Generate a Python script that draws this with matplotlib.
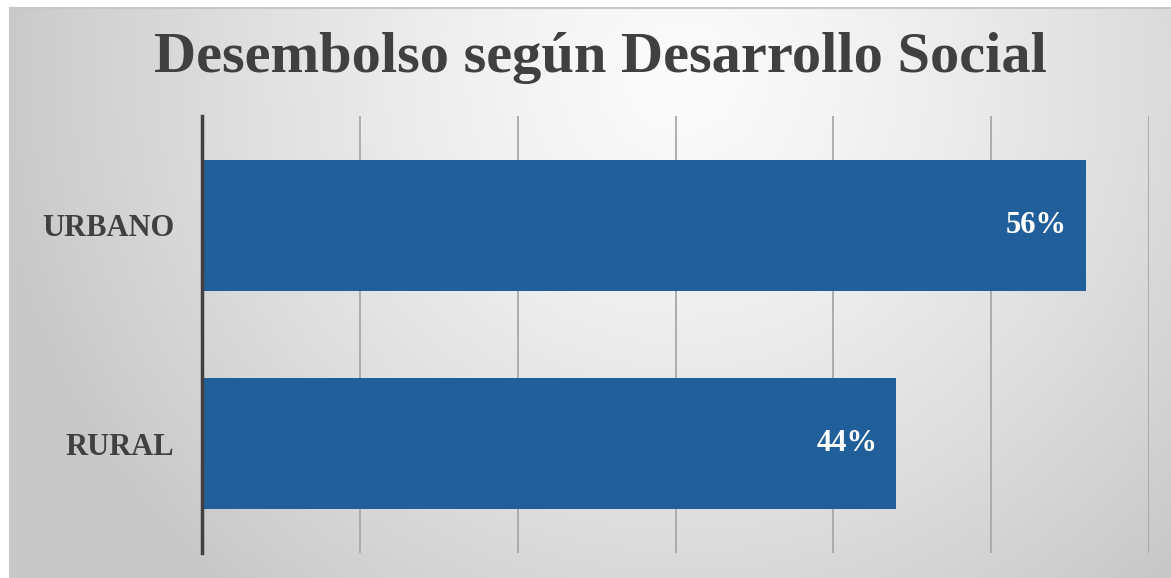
import numpy as np
import matplotlib.pyplot as plt

categorias = ["RURAL", "URBANO"]
valores = [0.44, 0.56]
etiquetas = ["44%", "56%"]
titulo = "Desembolso según Desarrollo Social"

plt.rcParams['font.family'] = ['Liberation Serif', 'DejaVu Serif']

fig = plt.figure(figsize=(11.71, 5.78), dpi=100)
fig.patch.set_facecolor('white')

# radial grey background, lighter near the top centre
bg = fig.add_axes([10/1171, 0, 1 - 10/1171, 1 - 8/578], zorder=0)
yy, xx = np.mgrid[0:1:300j, 0:1:600j]
r = np.sqrt(((xx - 0.58) / 0.6) ** 2 + ((yy - 0.88) / 1.2) ** 2)
g = 0.985 - 0.2 * np.clip(r, 0, 1) ** 1.3
bg.imshow(np.dstack([g, g, g]), origin='lower', aspect='auto', extent=[0, 1, 0, 1])
bg.set_xticks([])
bg.set_yticks([])
for k, s in bg.spines.items():
    s.set_color('#c8c8c8')
    s.set_linewidth(1.5)
    if k in ('right', 'bottom'):
        s.set_visible(False)

ax = fig.add_axes([202/1171, 1 - 553/578, (1149 - 202)/1171, (553 - 116)/578], zorder=1)
ax.patch.set_alpha(0)
y = np.arange(len(categorias))
ax.barh(y, valores, height=0.6, color='#215F9A', zorder=2)
for yi, v, t in zip(y, valores, etiquetas):
    ax.text(v - 0.012, yi, t, ha='right', va='center', color='white',
            fontsize=22, fontweight='bold', zorder=3)

ax.set_xlim(0, 0.6)
ax.set_ylim(-0.5, 1.5)
ax.set_xticks(np.arange(0.1, 0.61, 0.1))
ax.set_xticklabels([])
ax.tick_params(axis='x', length=0)
ax.grid(axis='x', color='#a8a8a8', linewidth=1.3, zorder=1)
ax.set_yticks(y)
ax.set_yticklabels(categorias, fontsize=22, fontweight='bold', color='#404040')
ax.tick_params(axis='y', length=0, pad=20)
for s in ['top', 'right', 'bottom']:
    ax.spines[s].set_visible(False)
ax.spines['left'].set_color('#404040')
ax.spines['left'].set_linewidth(2.5)

fig.text(600/1171, 1 - 58/578, titulo, ha='center', va='center',
         fontsize=42, fontweight='bold', color='#404040')

fig.savefig('out.png', dpi=100)
